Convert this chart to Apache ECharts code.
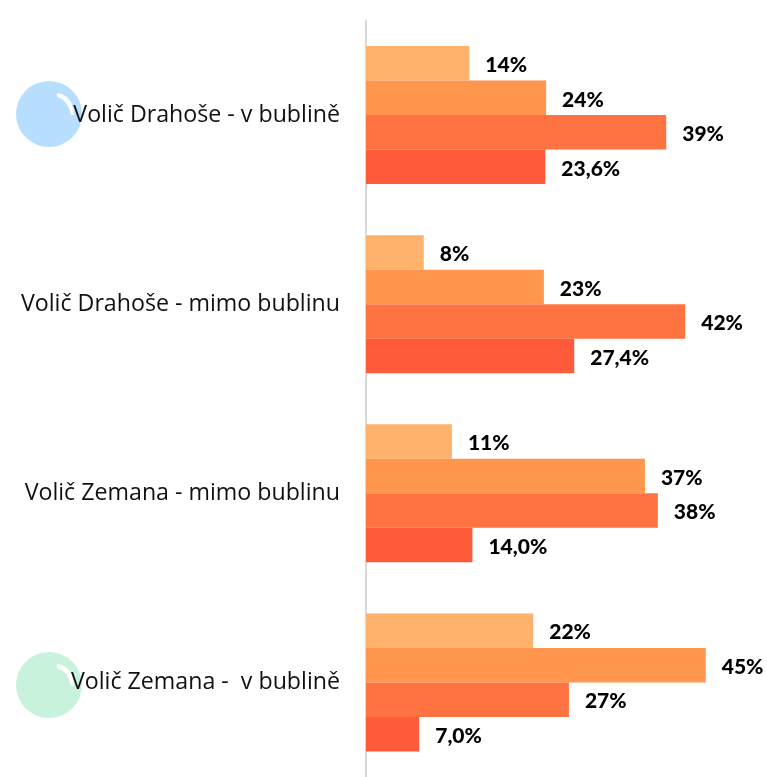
<!DOCTYPE html>
<html>
<head>
<meta charset="utf-8">
<style>
html, body { margin: 0; padding: 0; background: #fff; overflow: hidden; }
#chart { width: 767px; height: 777px; }
</style>
<script src="https://cdn.jsdelivr.net/npm/echarts@6/dist/echarts.min.js"></script>
</head>
<body>
<div id="chart"></div>
<script>
const categories = ['Volič Drahoše - v bublině', 'Volič Drahoše - mimo bublinu', 'Volič Zemana - mimo bublinu', 'Volič Zemana -  v bublině']

// bar lengths, the printed labels are rounded
const series1 = [13.6, 7.6, 11.3, 22]
const series2 = [23.7, 23.4, 36.7, 44.7]
const series3 = [39.5, 42, 38.4, 26.7]
const series4 = [23.6, 27.4, 14.0, 7.0]

const labels1 = ['14%', '8%', '11%', '22%']
const labels2 = ['24%', '23%', '37%', '45%']
const labels3 = ['39%', '42%', '38%', '27%']
const labels4 = ['23,6%', '27,4%', '14,0%', '7,0%']

const colors = ['#FFB26B', '#FF964D', '#FF7343', '#FF5A3A']

function makeSeries (values, texts, color) {
  return {
    type: 'bar',
    data: values,
    barWidth: 34.5,
    barGap: 0,
    itemStyle: { color: color },
    label: {
      show: true,
      position: 'right',
      distance: 16,
      offset: [0, 2],
      color: '#000',
      fontFamily: 'Lato',
      fontWeight: 900,
      fontSize: 21,
      formatter: function (p) { return texts[p.dataIndex] }
    }
  }
}

// bubble with its white glint
function bubble (cy, color) {
  return [
    { type: 'circle', z: -2, shape: { cx: 49, cy: cy, r: 33 }, style: { fill: color } },
    {
      type: 'polygon',
      z: -1,
      x: 0,
      y: cy,
      shape: {
        points: [[57, -21], [62, -20], [67, -17], [71, -12], [73, -6], [74, 1], [71, 1], [69, -6], [66, -11], [62, -15], [57, -17]]
      },
      style: { fill: '#fff' }
    }
  ]
}

const chart = echarts.init(document.getElementById('chart'), null, { renderer: 'canvas' })
chart.setOption({
  animation: false,
  backgroundColor: '#fff',
  grid: { left: 366, top: 20.5, width: 380, height: 758 },
  xAxis: { type: 'value', min: 0, max: 50, show: false },
  yAxis: {
    type: 'category',
    inverse: true,
    data: categories,
    axisLine: { show: true, lineStyle: { color: '#D9D9D9', width: 2 } },
    axisTick: { show: false },
    axisLabel: { color: '#111', fontFamily: 'Open Sans', fontSize: 23.2, margin: 26, padding: [5, 0, 0, 0] }
  },
  series: [
    makeSeries(series1, labels1, colors[0]),
    makeSeries(series2, labels2, colors[1]),
    makeSeries(series3, labels3, colors[2]),
    makeSeries(series4, labels4, colors[3])
  ],
  graphic: bubble(114, '#B8DEFF').concat(bubble(685, '#C9F2DC'))
})
</script>
</body>
</html>
